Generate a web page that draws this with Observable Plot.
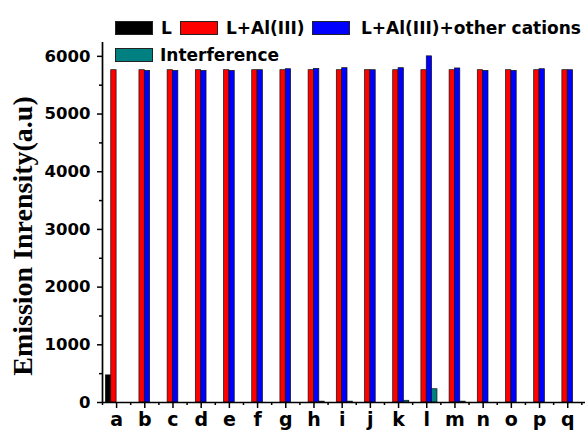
<!DOCTYPE html>
<html>
<head>
<meta charset="utf-8">
<script src="https://cdn.jsdelivr.net/npm/d3@7"></script>
<script src="https://cdn.jsdelivr.net/npm/@observablehq/plot@0.6"></script>
<style>
  body { margin: 0; background: #fff; }
  #chart { position: relative; width: 585px; height: 430px; overflow: hidden; }
  #chart svg { position: absolute; left: 0; top: 0; }
  .legend-item { position: absolute; display: flex; align-items: center; font: bold 17px "DejaVu Sans"; color: #000; white-space: nowrap; }
  .legend-item .sw { width: 38px; height: 14px; box-sizing: border-box; border: 1px solid #222; margin-right: 8px; }
  #ytitle { position: absolute; width: 320px; text-align: center; font: bold 28px "Liberation Serif"; line-height: 28px; transform: rotate(-90deg); white-space: nowrap; }
</style>
</head>
<body>
<div id="chart"></div>
<script>
// Sample labels a–q
const categories = ["a", "b", "c", "d", "e", "f", "g", "h", "i", "j", "k", "l", "m", "n", "o", "p", "q"];

// Series names and fill colours
const seriesNames = ["L", "L+Al(III)", "L+Al(III)+other cations", "Interference"];
const seriesColors = ["#000000", "#ff0000", "#0000ff", "#008080"];

// Emission intensity (a.u.) per sample for each series
const valuesL =          [470, 0, 0, 0, 0, 0, 0, 0, 0, 0, 0, 0, 0, 0, 0, 0, 0];
const valuesLAl =        [5760, 5760, 5760, 5760, 5760, 5760, 5760, 5760, 5760, 5760, 5760, 5760, 5760, 5760, 5760, 5760, 5760];
const valuesLAlOther =   [0, 5748, 5748, 5748, 5748, 5760, 5777, 5783, 5795, 5760, 5795, 6000, 5790, 5748, 5748, 5777, 5760];
const valuesInterfere =  [0, 0, 0, 0, 0, 0, 0, 15, 15, 0, 30, 230, 15, 0, 0, 0, 0];

// Y axis tick values
const yTicks = [0, 1000, 2000, 3000, 4000, 5000, 6000];
const yMinorTicks = [500, 1500, 2500, 3500, 4500, 5500];

const axisLabel = "Emission Inrensity(a.u)";

const seriesValues = [valuesL, valuesLAl, valuesLAlOther, valuesInterfere];
const rows = [];
categories.forEach((cat, i) => {
  seriesValues.forEach((vals, s) => {
    rows.push({cat, pos: i + 1, s, series: seriesNames[s], value: vals[i]});
  });
});

const barW = 0.19; // width of one bar, in category units
const majorX = categories.map((c, i) => i + 1);
const minorX = d3.range(0.5, categories.length + 0.6, 1);

const font = {fontFamily: "DejaVu Sans", fontWeight: "bold"};

const plot = Plot.plot({
  width: 585,
  height: 430,
  marginLeft: 102,
  marginRight: 0,
  marginTop: 42,
  marginBottom: 28,
  style: {background: "transparent", color: "#000"},
  x: {type: "linear", domain: [0.5, 17.63]},
  y: {domain: [0, 6240]},
  color: {domain: seriesNames, range: seriesColors},
  marks: [
    Plot.rect(rows.filter(d => d.value > 0), {
      x1: d => d.pos + (d.s - 2) * barW,
      x2: d => d.pos + (d.s - 1) * barW,
      y1: () => 0,
      y2: "value",
      fill: "series",
      stroke: "#111",
      strokeWidth: 0.7
    }),
    Plot.axisX({ticks: minorX, tickSize: 3, tickFormat: () => "", strokeWidth: 1.5, label: null}),
    Plot.axisX({ticks: majorX, tickSize: 6, tickPadding: 4, tickFormat: v => categories[v - 1],
      fontSize: 19, ...font, strokeWidth: 1.5, label: null}),
    Plot.axisY({ticks: yMinorTicks, tickSize: 3, tickFormat: () => "", strokeWidth: 1.5, label: null}),
    Plot.axisY({ticks: yTicks, tickSize: 5, tickPadding: 7, tickFormat: d3.format("d"),
      fontSize: 16.5, ...font, strokeWidth: 1.5, label: null}),
    Plot.ruleX([0.5], {stroke: "#000", strokeWidth: 1.7}),
    Plot.ruleY([0], {stroke: "#000", strokeWidth: 1.7})
  ]
});

const chart = document.getElementById("chart");
chart.appendChild(plot);

// Legend overlay
const legendSpots = [
  {left: 115, top: 18},
  {left: 180, top: 18},
  {left: 312, top: 18},
  {left: 115, top: 45}
];
const gaps = [8, 8, 11, 7];
seriesNames.forEach((name, i) => {
  const item = document.createElement("div");
  item.className = "legend-item";
  item.style.left = legendSpots[i].left + "px";
  item.style.top = legendSpots[i].top + "px";
  const sw = document.createElement("div");
  sw.className = "sw";
  sw.style.background = seriesColors[i];
  sw.style.marginRight = gaps[i] + "px";
  const txt = document.createElement("span");
  txt.textContent = name;
  item.appendChild(sw);
  item.appendChild(txt);
  chart.appendChild(item);
});

// Rotated y axis title
const yt = document.createElement("div");
yt.id = "ytitle";
yt.textContent = axisLabel;
yt.style.left = (23 - 160) + "px";
yt.style.top = (236 - 14) + "px";
chart.appendChild(yt);
</script>
</body>
</html>
